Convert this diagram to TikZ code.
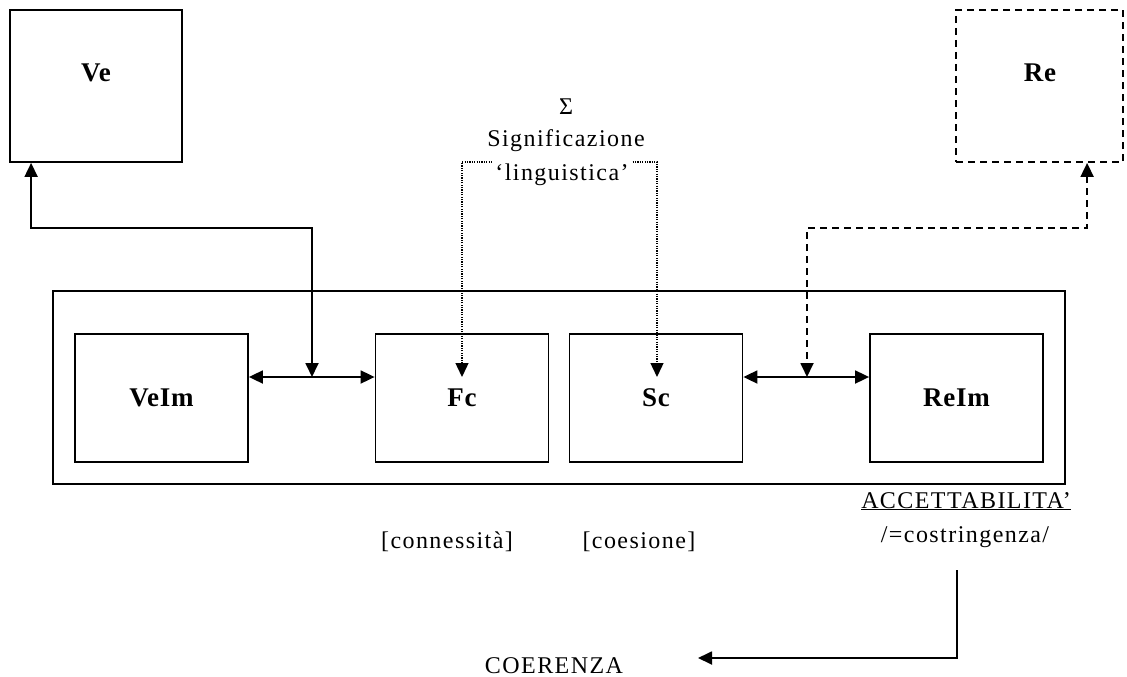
\documentclass[tikz,border=0pt]{standalone}
\usepackage{fontspec}
\setmainfont{Liberation Serif}
\newfontfamily\spacedserif[LetterSpace=6]{Liberation Serif}
\newfontfamily\boxserif[LetterSpace=3]{Liberation Serif}
\usetikzlibrary{arrows.meta}
\begin{document}
\begin{tikzpicture}[x=1pt,y=-1pt,
  >={Triangle[length=14pt,width=13pt]},
  line cap=butt,
  frameline/.style={draw, line width=1.8pt, inner sep=0pt},
  box/.style={frameline, minimum width=173pt, minimum height=128pt,
    font=\boxserif\bfseries\fontsize{27}{27}\selectfont},
  boldlbl/.style={inner sep=0pt, font=\boxserif\bfseries\fontsize{27}{27}\selectfont},
  txt/.style={inner sep=0pt, anchor=base, font=\spacedserif\fontsize{24}{24}\selectfont},
  conn/.style={line width=1.8pt},
  dashconn/.style={line width=1.8pt, dash pattern=on 7pt off 5pt},
  dotconn/.style={line width=1.4pt, dash pattern=on 1.2pt off 1.2pt}
]
\useasboundingbox (0,0) rectangle (1127,677);

% outer frame and the four inner boxes
\node[frameline, minimum width=1012pt, minimum height=193pt] (frame) at (559,387.5) {};
\node[box] (veim) at (161.5,398) {VeIm};
\node[box] (fc) at (462,398) {Fc};
\node[box] (sc) at (656,398) {Sc};
\node[box] (reim) at (956.5,398) {ReIm};

% external boxes
\node[frameline, minimum width=172pt, minimum height=152pt] (ve) at (96,86) {};
\node[boldlbl] (velbl) at (96,73) {Ve};
\node[frameline, dash pattern=on 7pt off 5pt, minimum width=167pt, minimum height=152pt] (re) at (1039.5,86) {};
\node[boldlbl] (relbl) at (1040,73) {Re};

% junction points on the horizontal links
\coordinate (vej) at (312,377);
\coordinate (rej) at (807,377);
\coordinate (fcin) at (462,377);
\coordinate (scin) at (657,377);
\coordinate (brl) at (462,162);
\coordinate (brr) at (657,162);

% links between inner boxes
\draw[conn,<->] (veim.east |- vej) -- (fc.west |- vej);
\draw[conn,<->] (sc.east |- rej) -- (reim.west |- rej);

% links to the external boxes
\draw[conn,<->] ([xshift=22pt]ve.south west) -- ++(0,65) -| (vej);
\draw[dashconn,<->] ([xshift=132pt]re.south west) -- ++(0,65) -| (rej);

% dotted bracket from the linguistic signification
\draw[dotconn,<->] (fcin) -- (brl) -- (brr) -- (scin);

% labels
\node[txt] (sigma) at (566,114) {Σ};
\node[txt] (signif) at (566,146) {Significazione};
\node[txt, fill=white, inner xsep=3pt, inner ysep=5pt] (ling) at (562,180) {‘linguistica’};
\node[txt] (acc) at (966,508) {\underline{ACCETTABILITA’}};
\node[txt] (costr) at (965,542) {/=costringenza/};
\node[txt] (connlbl) at (447,548) {[connessità]};
\node[txt] (coes) at (639,548) {[coesione]};
\node[txt] (coer) at (554,673) {COERENZA};

% link down to coherence
\coordinate (cstart) at (957,570);
\coordinate (cend) at (698,658);
\draw[conn,->] (cstart) |- (cend);
\end{tikzpicture}
\end{document}
